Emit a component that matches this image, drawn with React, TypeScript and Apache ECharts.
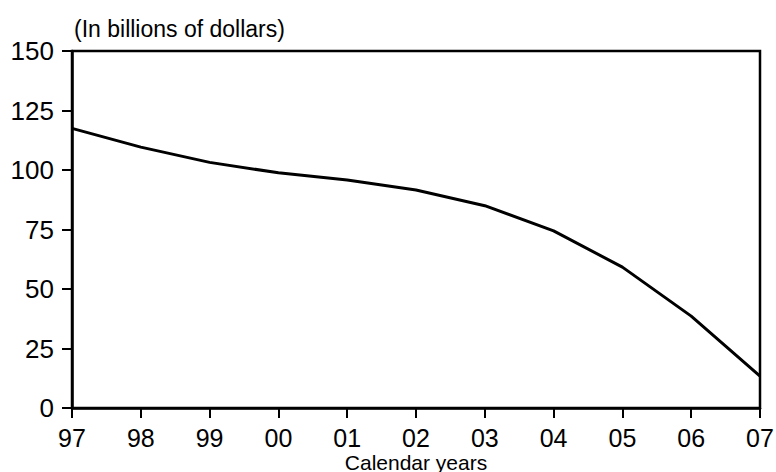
import React, { useEffect, useRef } from "react";
import * as echarts from "echarts";

const years = ["97", "98", "99", "00", "01", "02", "03", "04", "05", "06", "07"];
const values = [117.5, 109.6, 103.2, 98.8, 95.8, 91.6, 85.0, 74.4, 59.2, 38.6, 13.4];
const yTicks = [0, 25, 50, 75, 100, 125, 150];

const FONT = "'Liberation Sans', Arial, sans-serif";

export default function App() {
  const ref = useRef<HTMLDivElement>(null);
  useEffect(() => {
    if (!ref.current) return;
    const chart = echarts.init(ref.current, undefined, { renderer: "svg" });
    chart.setOption({
      animation: false,
      backgroundColor: "#fff",
      title: {
        text: "(In billions of dollars)",
        left: 69,
        top: 12,
        textStyle: { fontFamily: FONT, fontSize: 23, fontWeight: "normal", color: "#000" },
      },
      grid: {
        left: 72,
        right: 16,
        top: 51,
        bottom: 64,
        containLabel: false,
        outerBoundsMode: "none",
        show: true,
        borderColor: "#000",
        borderWidth: 2.5,
        backgroundColor: "transparent",
      },
      xAxis: {
        type: "category",
        data: years,
        boundaryGap: false,
        name: "Calendar years",
        nameLocation: "middle",
        nameGap: 44,
        nameMoveOverlap: false,
        nameTextStyle: { fontFamily: FONT, fontSize: 21, lineHeight: 20, color: "#000", verticalAlign: "top" },
        axisLine: { lineStyle: { color: "#000", width: 2.5 } },
        axisTick: { show: true, length: 10, lineStyle: { color: "#000", width: 2 } },
        axisLabel: { fontFamily: FONT, fontSize: 25, lineHeight: 25, color: "#000", margin: 17 },
        splitLine: { show: false },
      },
      yAxis: {
        type: "value",
        min: yTicks[0],
        max: yTicks[yTicks.length - 1],
        interval: 25,
        axisLine: { show: true, lineStyle: { color: "#000", width: 2.5 } },
        axisTick: { show: true, length: 10, lineStyle: { color: "#000", width: 2 } },
        axisLabel: { fontFamily: FONT, fontSize: 26, color: "#000", margin: 18 },
        splitLine: { show: false },
      },
      series: [
        {
          type: "line",
          data: values,
          symbol: "none",
          lineStyle: { color: "#000", width: 3 },
        },
      ],
    });
    return () => chart.dispose();
  }, []);
  return <div ref={ref} style={{ width: 776, height: 472, position: "absolute", left: 0, top: 0 }} />;
}
